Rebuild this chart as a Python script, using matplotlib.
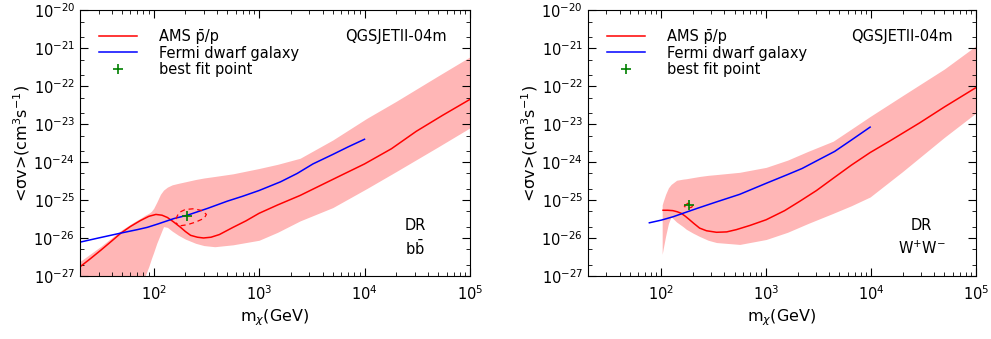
import numpy as np
import matplotlib
matplotlib.use('Agg')
import matplotlib.pyplot as plt
from matplotlib.ticker import LogLocator, NullFormatter

# ---- b bbar panel (log10 of <sigma v>) ----
bb_red_m = [20, 25, 31.6, 40, 49, 60, 75, 90, 105, 120, 135, 155, 180, 200, 224, 260, 297,
            350, 420, 566, 750, 1000, 1500, 2450, 3800, 6000, 10000, 18000, 31000, 55000, 100000]
bb_red_sv = [-26.76, -26.55, -26.32, -26.08, -25.87, -25.70, -25.54, -25.43, -25.38, -25.40,
             -25.46, -25.58, -25.72, -25.83, -25.93, -25.98, -26.0, -25.98, -25.91, -25.72,
             -25.55, -25.35, -25.13, -24.88, -24.62, -24.35, -24.05, -23.65, -23.19, -22.77,
             -22.35]

bb_blue_m = [20, 30, 49, 70, 87, 110, 155, 209, 325, 500, 700, 1000, 1600, 2300, 3240,
             5000, 7000, 10000]
bb_blue_sv = [-26.11, -26.0, -25.87, -25.78, -25.72, -25.63, -25.49, -25.40, -25.22, -25.03,
              -24.90, -24.75, -24.52, -24.30, -24.05, -23.80, -23.60, -23.4]

bb_band_m = [20, 31.6, 49, 65, 75, 83, 90, 95, 100, 107, 116, 124, 135, 150, 172, 200, 250,
             300, 380, 566, 1000, 1500, 2450, 5000, 10500, 20000, 50000, 100000]
bb_up_sv = [-26.62, -26.22, -25.80, -25.58, -25.48, -25.40, -25.35, -25.30, -25.22, -25.06,
            -24.85, -24.74, -24.66, -24.60, -24.56, -24.52, -24.46, -24.42, -24.38, -24.31,
            -24.17, -24.06, -23.90, -23.42, -22.85, -22.40, -21.73, -21.23]
bb_lo_sv = [-29.0, -29.0, -28.8, -28.0, -27.45, -27.0, -26.75, -26.55, -26.38, -26.14,
            -25.90, -25.70, -25.72, -25.82, -25.93, -26.03, -26.14, -26.20, -26.23, -26.18,
            -26.06, -25.85, -25.55, -25.20, -24.70, -24.25, -23.60, -23.10]

bb_best = (209, -25.43)
bb_cont_lm = [2.21, 2.24, 2.30, 2.38, 2.46, 2.50, 2.48, 2.40, 2.32, 2.25, 2.21]
bb_cont_lsv = [-25.50, -25.33, -25.25, -25.23, -25.28, -25.38, -25.48, -25.58, -25.65,
               -25.68, -25.60]

# ---- W+W- panel ----
ww_red_m = [104, 115, 129, 142, 155, 170, 186, 205, 232, 270, 336, 420, 520, 700, 1000,
            1500, 2100, 3020, 4500, 6500, 9800, 15000, 29000, 50000, 100000]
ww_red_sv = [-25.27, -25.27, -25.28, -25.31, -25.35, -25.43, -25.52, -25.62, -25.74, -25.81,
             -25.85, -25.84, -25.78, -25.67, -25.52, -25.28, -25.03, -24.75, -24.40, -24.08,
             -23.75, -23.45, -22.97, -22.55, -22.04]

ww_blue_m = [77, 100, 130, 161, 220, 336, 560, 1000, 1600, 2200, 3020, 4500, 6500, 9800]
ww_blue_sv = [-25.6, -25.53, -25.44, -25.35, -25.22, -25.05, -24.85, -24.56, -24.33, -24.17,
              -23.97, -23.72, -23.42, -23.08]

ww_band_m = [102, 104, 110, 117, 124, 140, 161, 173, 200, 232, 280, 336, 560, 1000, 1600,
             2500, 4360, 6500, 9800, 20000, 50000, 100000]
ww_up_sv = [-25.13, -25.05, -24.85, -24.68, -24.59, -24.48, -24.45, -24.44, -24.41, -24.38,
            -24.35, -24.33, -24.27, -24.14, -23.95, -23.72, -23.45, -23.13, -22.80, -22.25,
            -21.55, -20.94]
ww_lo_sv = [-26.43, -26.30, -25.95, -25.62, -25.44, -25.58, -25.70, -25.77, -25.87, -25.96,
            -26.06, -26.12, -26.17, -26.04, -25.85, -25.62, -25.35, -25.15, -24.92, -24.25,
            -23.35, -22.71]

ww_best = (184, -25.14)
ww_cont_lm = [2.23, 2.25, 2.28, 2.30, 2.29, 2.26, 2.23, 2.22, 2.23]
ww_cont_lsv = [-25.14, -25.09, -25.09, -25.14, -25.19, -25.21, -25.19, -25.16, -25.14]

channels = ['b$\\bar{\\rm b}$', 'W$^{+}$W$^{-}$']


def draw_panel(ax, red_m, red_sv, blue_m, blue_sv, band_m, up_sv, lo_sv,
               best, cont_lm, cont_lsv, channel):
    ax.fill_between(band_m, 10 ** np.array(lo_sv), 10 ** np.array(up_sv),
                    color='#ffb6b6', lw=0)

    ax.plot(red_m, 10 ** np.array(red_sv), color='red', lw=1.1, label='AMS p\u0304/p')
    ax.plot(blue_m, 10 ** np.array(blue_sv), color='blue', lw=1.1, label='Fermi dwarf galaxy')
    ax.plot(10 ** np.array(cont_lm), 10 ** np.array(cont_lsv), color='red', lw=0.9,
            ls=(0, (4, 3)))
    ax.plot([best[0]], [10 ** best[1]], '+', color='green', ms=7, mew=1.2,
            ls='none', label='best fit point')

    ax.set_xscale('log')
    ax.set_yscale('log')
    ax.set_xlim(20, 1e5)
    ax.set_ylim(1e-27, 1e-20)
    ax.yaxis.set_major_locator(LogLocator(base=10, numticks=20))
    ax.yaxis.set_minor_locator(LogLocator(base=10, subs=(2, 5), numticks=20))
    ax.yaxis.set_minor_formatter(NullFormatter())
    ax.tick_params(which='both', direction='in', top=True, right=True, labelsize=10.5)
    ax.tick_params(which='major', length=6)
    ax.tick_params(which='minor', length=3)
    ax.tick_params(axis='x', pad=6)

    ax.set_xlabel('m$_\\chi$(GeV)', fontsize=11.5, labelpad=3)
    ax.set_ylabel('<σv>(cm$^3$s$^{-1}$)', fontsize=11.5, labelpad=1)

    ax.legend(loc='upper left', frameon=False, fontsize=10.5, handlelength=2.6,
              labelspacing=0.1, borderaxespad=1.0, handletextpad=1.5,
              borderpad=0.3)
    ax.text(0.94, 0.90, 'QGSJETII-04m', transform=ax.transAxes, ha='right',
            va='center', fontsize=10.5)
    ax.text(0.86, 0.19, 'DR', transform=ax.transAxes, ha='center', va='center',
            fontsize=10.5)
    ax.text(0.86, 0.105, channel, transform=ax.transAxes, ha='center', va='center',
            fontsize=10.5)


fig = plt.figure(figsize=(9.91, 3.39), dpi=100)
ax1 = fig.add_axes([0.0807, 0.186, 0.3935, 0.784])
ax2 = fig.add_axes([0.5933, 0.186, 0.3915, 0.784])

draw_panel(ax1, bb_red_m, bb_red_sv, bb_blue_m, bb_blue_sv, bb_band_m, bb_up_sv,
           bb_lo_sv, bb_best, bb_cont_lm, bb_cont_lsv, channels[0])
draw_panel(ax2, ww_red_m, ww_red_sv, ww_blue_m, ww_blue_sv, ww_band_m, ww_up_sv,
           ww_lo_sv, ww_best, ww_cont_lm, ww_cont_lsv, channels[1])

fig.savefig('out.png', dpi=100)
